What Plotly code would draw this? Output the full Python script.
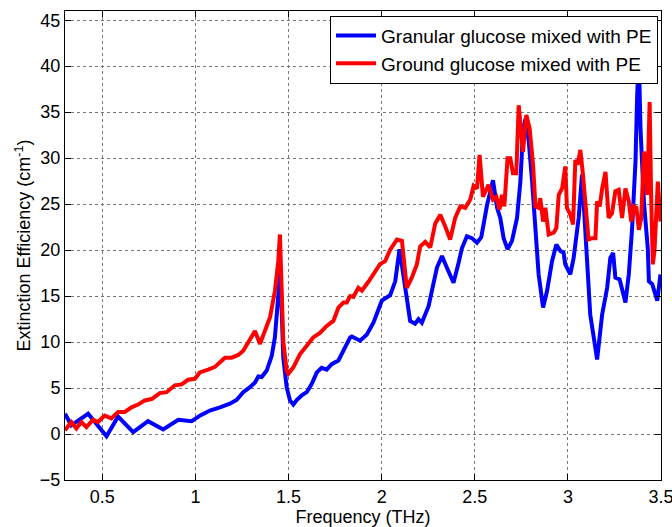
import plotly.graph_objects as go

# Granular glucose mixed with PE (blue)
granular_f = [0.30, 0.334, 0.424, 0.523, 0.585, 0.666, 0.746, 0.827, 0.908, 0.980,
              1.024, 1.078, 1.132, 1.185, 1.221, 1.257, 1.293, 1.320, 1.338, 1.356,
              1.383, 1.410, 1.427, 1.445, 1.456, 1.472, 1.490, 1.508, 1.526, 1.544,
              1.571, 1.598, 1.625, 1.652, 1.678, 1.705, 1.732, 1.768, 1.804, 1.831,
              1.840, 1.884, 1.920, 1.956, 2.001, 2.046, 2.073, 2.096, 2.135, 2.153,
              2.180, 2.198, 2.216, 2.252, 2.297, 2.324, 2.350, 2.386, 2.413, 2.431,
              2.458, 2.485, 2.512, 2.535, 2.566, 2.598, 2.620, 2.637, 2.655, 2.676,
              2.700, 2.727, 2.745, 2.759, 2.772, 2.790, 2.808, 2.826, 2.843, 2.867,
              2.888, 2.915, 2.938, 2.960, 2.977, 2.986, 3.013, 3.031, 3.058, 3.076,
              3.103, 3.120, 3.139, 3.157, 3.184, 3.211, 3.228, 3.243, 3.255, 3.278,
              3.309, 3.327, 3.345, 3.363, 3.372, 3.381, 3.390, 3.408, 3.429, 3.435,
              3.453, 3.480, 3.497]
granular_e = [2.2, 0.95, 2.2, -0.25, 1.9, 0.2, 1.4, 0.5, 1.55, 1.4,
              2.0, 2.55, 2.9, 3.3, 3.7, 4.55, 5.1, 5.6, 6.25, 6.2,
              6.9, 8.5, 10.5, 14.5, 17.8, 8.3, 5.1, 3.65, 3.2, 3.7,
              4.2, 4.55, 5.45, 6.7, 7.2, 7.0, 7.6, 8.0, 9.4, 10.5,
              10.6, 10.15, 10.8, 12.1, 14.5, 15.1, 16.6, 20.1, 14.8, 12.3,
              12.0, 12.5, 12.1, 13.9, 18.1, 19.35, 18.1, 16.45, 18.6, 20.2,
              21.5, 21.3, 20.8, 21.4, 24.9, 27.6, 24.6, 23.5, 21.3, 20.1,
              21.0, 23.5, 27.45, 32.9, 34.3, 31.8, 27.45, 22.0, 17.35, 13.75,
              15.55, 18.8, 20.6, 19.9, 19.7, 18.45, 17.35, 19.15, 23.5, 28.2,
              18.1, 13.0, 10.5, 8.1, 13.0, 15.9, 19.15, 19.7, 17.0, 16.8,
              14.3, 17.35, 22.4, 29.6, 36.8, 41.0, 33.2, 25.3, 20.2, 16.6,
              16.3, 14.5, 17.35]

# Ground glucose mixed with PE (red)
ground_f = [0.30, 0.334, 0.361, 0.388, 0.415, 0.451, 0.477, 0.513, 0.549, 0.585,
            0.621, 0.657, 0.692, 0.728, 0.765, 0.809, 0.845, 0.890, 0.926, 0.961,
            0.997, 1.024, 1.069, 1.105, 1.132, 1.159, 1.195, 1.230, 1.257, 1.284,
            1.320, 1.347, 1.374, 1.401, 1.427, 1.445, 1.454, 1.472, 1.490, 1.499,
            1.526, 1.562, 1.598, 1.633, 1.669, 1.705, 1.741, 1.768, 1.795, 1.813,
            1.831, 1.848, 1.875, 1.894, 1.929, 1.956, 1.992, 2.019, 2.046, 2.082,
            2.109, 2.135, 2.162, 2.189, 2.207, 2.234, 2.261, 2.288, 2.315, 2.341,
            2.368, 2.395, 2.422, 2.449, 2.476, 2.494, 2.512, 2.526, 2.544, 2.574,
            2.598, 2.616, 2.633, 2.646, 2.659, 2.676, 2.691, 2.705, 2.723, 2.736,
            2.745, 2.759, 2.777, 2.795, 2.813, 2.826, 2.843, 2.852, 2.867, 2.879,
            2.897, 2.924, 2.938, 2.951, 2.969, 2.986, 2.995, 3.013, 3.028, 3.040,
            3.053, 3.067, 3.081, 3.094, 3.111, 3.130, 3.148, 3.157, 3.171, 3.184,
            3.202, 3.219, 3.237, 3.255, 3.273, 3.291, 3.309, 3.327, 3.340, 3.354,
            3.368, 3.381, 3.394, 3.408, 3.417, 3.426, 3.439, 3.447, 3.456, 3.465,
            3.483, 3.497]
ground_e = [0.4, 1.3, 0.6, 1.3, 0.75, 1.55, 1.3, 2.0, 1.7, 2.4,
            2.4, 2.9, 3.2, 3.65, 3.8, 4.45, 4.55, 5.3, 5.4, 5.9,
            6.0, 6.7, 7.0, 7.3, 7.8, 8.3, 8.3, 8.6, 9.05, 10.0,
            11.2, 9.8, 11.2, 12.7, 15.55, 18.8, 21.7, 10.1, 6.9, 6.55,
            7.25, 8.7, 9.6, 10.5, 11.0, 11.75, 12.3, 13.75, 14.3, 14.3,
            15.0, 14.9, 15.9, 15.6, 16.55, 17.35, 18.5, 18.8, 20.05, 21.15,
            21.0, 15.9, 17.0, 18.45, 20.4, 20.9, 20.3, 22.9, 23.85, 22.6,
            21.15, 23.5, 24.75, 24.6, 25.5, 27.0, 26.7, 30.35, 25.8, 27.1,
            25.5, 25.8, 24.4, 26.0, 24.75, 30.0, 30.0, 28.35, 28.35, 35.75,
            33.2, 30.7, 34.7, 33.2, 29.3, 24.75, 24.6, 25.65, 23.1, 24.6,
            21.7, 21.9, 22.4, 26.0, 26.7, 29.1, 24.6, 23.85, 22.8, 29.8,
            29.3, 30.9, 28.2, 25.3, 21.15, 21.3, 21.3, 25.3, 24.75, 26.7,
            28.5, 23.5, 24.0, 26.4, 26.55, 23.5, 26.7, 25.3, 23.1, 24.75,
            24.6, 22.2, 23.5, 30.7, 29.6, 26.0, 36.1, 26.0, 18.45, 19.9,
            27.45, 23.1]

x_tickvals = [0.5, 1.0, 1.5, 2.0, 2.5, 3.0, 3.5]
x_ticktext = ["0.5", "1", "1.5", "2", "2.5", "3", "3.5"]
y_tickvals = [-5, 0, 5, 10, 15, 20, 25, 30, 35, 40, 45]

FONT = "Liberation Sans, Arial, Helvetica, sans-serif"

fig = go.Figure()
fig.add_trace(go.Scatter(x=granular_f, y=granular_e, mode="lines",
                         name="Granular glucose mixed with PE",
                         line=dict(color="#0000FF", width=4)))
fig.add_trace(go.Scatter(x=ground_f, y=ground_e, mode="lines",
                         name="Ground glucose mixed with PE",
                         line=dict(color="#FF0000", width=4)))

axis_common = dict(
    showline=True, linecolor="black", linewidth=1, mirror="ticks",
    ticks="inside", ticklen=6, tickcolor="black",
    showgrid=True, gridcolor="#777777", griddash="dot", gridwidth=1,
    zeroline=False, automargin=False,
    tickfont=dict(family=FONT, size=18, color="black"),
)

fig.update_layout(
    width=672, height=527,
    margin=dict(l=65, r=11, t=11, b=47),
    paper_bgcolor="white", plot_bgcolor="white",
    font=dict(family=FONT, size=18, color="black"),
    xaxis=dict(range=[0.3, 3.5], tickvals=x_tickvals, ticktext=x_ticktext,
               ticklabeloverflow="allow",
               title=dict(text="Frequency (THz)", font=dict(family=FONT, size=18), standoff=2),
               **axis_common),
    yaxis=dict(range=[-5, 46], tickvals=y_tickvals,
               title=dict(text="Extinction Efficiency (cm<sup>-1</sup>)",
                          font=dict(family=FONT, size=18), standoff=4),
               **axis_common),
    legend=dict(x=0.995, y=0.99, xanchor="right", yanchor="top",
                bgcolor="white", bordercolor="black", borderwidth=1,
                font=dict(family=FONT, size=19, color="black"),
                tracegroupgap=0, itemwidth=40),
    showlegend=True,
)

fig.write_html("out.html")
